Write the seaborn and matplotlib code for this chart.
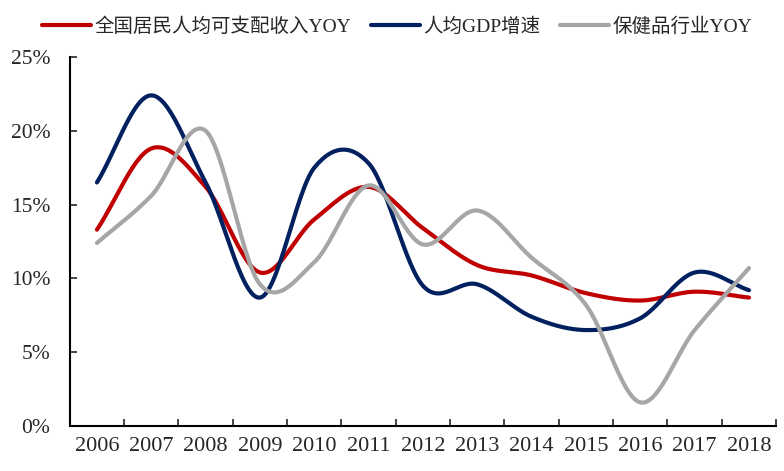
import numpy as np
import pandas as pd
import seaborn as sns
import matplotlib.pyplot as plt
from matplotlib.ticker import FixedLocator, PercentFormatter

years = ["2006", "2007", "2008", "2009", "2010", "2011", "2012",
         "2013", "2014", "2015", "2016", "2017", "2018"]
income_yoy = [13.3, 18.8, 16.2, 10.4, 14.0, 16.2, 13.4, 10.9, 10.2, 9.0, 8.5, 9.1, 8.7]
gdp_growth = [16.5, 22.4, 16.5, 8.7, 17.5, 17.8, 9.5, 9.6, 7.4, 6.5, 7.3, 10.4, 9.2]
health_yoy = [12.4, 15.6, 20.0, 9.6, 11.1, 16.3, 12.3, 14.6, 11.4, 8.2, 1.6, 6.5, 10.7]

series_names = ["全国居民人均可支配收入YOY", "人均GDP增速", "保健品行业YOY"]
colors = ["#C00000", "#002060", "#A6A6A6"]


def smooth(y, n=30):
    # Excel-like smoothed line (Catmull-Rom through the data points)
    x = np.arange(len(y), dtype=float)
    y = np.asarray(y, dtype=float)
    px = np.concatenate([[2 * x[0] - x[1]], x, [2 * x[-1] - x[-2]]])
    py = np.concatenate([[2 * y[0] - y[1]], y, [2 * y[-1] - y[-2]]])
    xs, ys = [], []
    t = np.linspace(0, 1, n, endpoint=False)
    for i in range(1, len(px) - 2):
        for arr, out in ((px, xs), (py, ys)):
            p0, p1, p2, p3 = arr[i - 1], arr[i], arr[i + 1], arr[i + 2]
            out.extend(0.5 * (2 * p1 + (-p0 + p2) * t
                              + (2 * p0 - 5 * p1 + 4 * p2 - p3) * t ** 2
                              + (-p0 + 3 * p1 - 3 * p2 + p3) * t ** 3))
    xs.append(x[-1])
    ys.append(y[-1])
    return np.array(xs), np.array(ys)


frames = []
for name, vals in zip(series_names, [income_yoy, gdp_growth, health_yoy]):
    sx, sy = smooth(vals)
    frames.append(pd.DataFrame({"x": sx, "y": sy, "series": name}))
df = pd.concat(frames, ignore_index=True)

sns.set_theme(style="white")
plt.rcParams['font.family'] = ['Liberation Serif', 'Noto Sans CJK SC']

fig = plt.figure(figsize=(7.84, 4.71), dpi=100)
ax = fig.add_axes([0.089, 0.0955, 0.901, 0.7835])

sns.lineplot(data=df, x="x", y="y", hue="series", palette=colors,
             hue_order=series_names, sort=False, estimator=None,
             linewidth=3, ax=ax)

ax.set_xlim(-0.5, len(years) - 0.5)
ax.set_ylim(0, 25)
ax.set_yticks(np.arange(0, 26, 5))
ax.yaxis.set_major_formatter(PercentFormatter(decimals=0))
ax.set_xticks(range(len(years)))
ax.set_xticklabels(years)
ax.xaxis.set_minor_locator(FixedLocator(np.arange(-0.5, len(years), 1)))
ax.tick_params(axis="x", which="major", length=0, pad=8, labelsize=16)
ax.tick_params(axis="x", which="minor", direction="in", length=5, width=1.2, bottom=True)
ax.tick_params(axis="y", direction="in", length=5, width=1.2, left=True, labelsize=15.5, pad=14)
ax.set_xlabel("")
ax.set_ylabel("")

for side in ["top", "right"]:
    ax.spines[side].set_visible(False)
for side in ["left", "bottom"]:
    ax.spines[side].set_color("black")
    ax.spines[side].set_linewidth(1.5)

ax.legend(loc="lower left", bbox_to_anchor=(-0.05, 1.035), ncol=3, frameon=False,
          fontsize=14, handlelength=2.5, handletextpad=0.2, columnspacing=1.0,
          borderaxespad=0)

fig.savefig("out.png", dpi=100)
